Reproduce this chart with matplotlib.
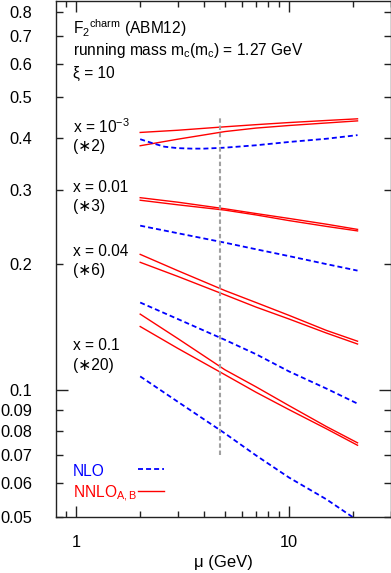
import numpy as np
import matplotlib
matplotlib.use('Agg')
import matplotlib.pyplot as plt
from matplotlib.ticker import FixedLocator, NullFormatter

plt.rcParams['font.family'] = ['Liberation Sans', 'DejaVu Sans']
plt.rcParams['font.size'] = 11
plt.rcParams['lines.scale_dashes'] = False
plt.rcParams['mathtext.fontset'] = 'custom'
plt.rcParams['mathtext.rm'] = 'Liberation Sans'
plt.rcParams['mathtext.it'] = 'Liberation Sans'

#%% Data, mu in GeV
mu = [2, 3, 5, 7, 10, 15, 21]

# x = 1e-3 (*2)
nnlo_a_1e3 = [0.412, 0.417, 0.425, 0.430, 0.435, 0.440, 0.444]
nnlo_b_1e3 = [0.383, 0.397, 0.414, 0.422, 0.428, 0.434, 0.439]
mu_nlo_1e3 = [2, 2.3, 2.6, 3, 3.5, 4, 5, 7, 10, 15, 21]
nlo_1e3 = [0.397, 0.388, 0.381, 0.378, 0.377, 0.377, 0.379, 0.384, 0.391, 0.398, 0.406]

# x = 0.01 (*3)
nnlo_a_001 = [0.288, 0.281, 0.271, 0.264, 0.257, 0.249, 0.242]
nnlo_b_001 = [0.284, 0.277, 0.269, 0.262, 0.254, 0.246, 0.240]
nlo_001 = [0.247, 0.237, 0.225, 0.217, 0.209, 0.200, 0.193]

# x = 0.04 (*6)
nnlo_a_004 = [0.211, 0.193, 0.173, 0.162, 0.151, 0.139, 0.131]
nnlo_b_004 = [0.202, 0.187, 0.169, 0.158, 0.148, 0.137, 0.129]
nlo_004 = [0.162, 0.148, 0.132, 0.122, 0.111, 0.101, 0.093]

# x = 0.1 (*20)
nnlo_a_01 = [0.152, 0.133, 0.112, 0.102, 0.092, 0.082, 0.075]
nnlo_b_01 = [0.142, 0.126, 0.109, 0.099, 0.090, 0.081, 0.074]
nlo_01 = [0.108, 0.094, 0.079, 0.070, 0.062, 0.055, 0.049]

mu_line = 4.75
y_ticks = [0.05, 0.06, 0.07, 0.08, 0.09, 0.1, 0.2, 0.3, 0.4, 0.5, 0.6, 0.7, 0.8]

#%% Plot
fig = plt.figure(figsize=(3.91, 5.73), dpi=100)
ax = fig.add_axes([55.5/391, 1 - 516.7/573, 335/391, 516.2/573])
ax.set_xscale('log')
ax.set_yscale('log')
ax.set_xlim(0.8, 30)
ax.set_ylim(0.05, 0.85)

red = '#ff0000'
blue = '#0000ff'
for a, b in [(nnlo_a_1e3, nnlo_b_1e3), (nnlo_a_001, nnlo_b_001),
             (nnlo_a_004, nnlo_b_004), (nnlo_a_01, nnlo_b_01)]:
    ax.plot(mu, a, color=red, lw=1.0)
    ax.plot(mu, b, color=red, lw=1.0)
ax.plot(mu_nlo_1e3, nlo_1e3, color=blue, lw=1.3, dashes=[3.6, 2.2])
for n in [nlo_001, nlo_004, nlo_01]:
    ax.plot(mu, n, color=blue, lw=1.3, dashes=[3.6, 2.2])

ax.plot([mu_line, mu_line], [0.07, 0.45], color='#a0a0a0', lw=1.5, dashes=[3.2, 2.0])

# ticks, gnuplot style
ax.yaxis.set_major_locator(FixedLocator([0.1]))
ax.yaxis.set_minor_locator(FixedLocator([t for t in y_ticks if t != 0.1]))
ax.yaxis.set_major_formatter(matplotlib.ticker.FixedFormatter(['0.1']))
ax.yaxis.set_minor_formatter(matplotlib.ticker.FuncFormatter(lambda v, p: '%g' % v))
ax.xaxis.set_major_locator(FixedLocator([1, 10]))
ax.xaxis.set_major_formatter(matplotlib.ticker.FixedFormatter(['1', '10']))
ax.xaxis.set_minor_locator(FixedLocator([0.9, 2, 3, 4, 5, 6, 7, 8, 9, 20, 30]))
ax.xaxis.set_minor_formatter(NullFormatter())
ax.tick_params(which='both', direction='in', top=True, right=True, width=1.0,
               labelsize=11.8, color='#222222')
ax.tick_params(axis='y', which='major', length=8.5, pad=17)
ax.tick_params(axis='y', which='minor', length=5, pad=17)
ax.tick_params(axis='x', which='major', length=8, pad=13.5)
ax.tick_params(axis='x', which='minor', length=4, pad=13.5)
for s in ax.spines.values():
    s.set_linewidth(1.0)
    s.set_color('#222222')

ax.set_xlabel('μ (GeV)', fontsize=12, labelpad=3)

# annotations
tx = 0.052
def label(y, s, **kw):
    ax.text(tx, 1 - (y - 0.5) / 516.2, s, transform=ax.transAxes, va='center',
            ha='left', fontsize=11.2, **kw)

label(28, r'F$_2$$^{\mathregular{charm}}$ (ABM12)')
label(50, r'running mass m$_\mathregular{c}$(m$_\mathregular{c}$) = 1.27 GeV')
label(73, 'ξ = 10')
label(127, r'x = 10$^{\mathregular{-3}}$')
label(146, '(∗2)')
label(187, 'x = 0.01')
label(206, '(∗3)')
label(252, 'x = 0.04')
label(271, '(∗6)')
label(346, 'x = 0.1')
label(365, '(∗20)')
label(472, 'NLO', color=blue)
label(494, r'NNLO$_{\mathregular{A,B}}$', color=red)

ax.plot([0.2475, 0.325], [1 - 468.5/516.2] * 2, transform=ax.transAxes,
        color=blue, lw=1.3, dashes=[3.6, 2.2])
ax.plot([0.2475, 0.325], [1 - 490.5/516.2] * 2, transform=ax.transAxes,
        color=red, lw=1.0)

fig.savefig('out.png', dpi=100)
